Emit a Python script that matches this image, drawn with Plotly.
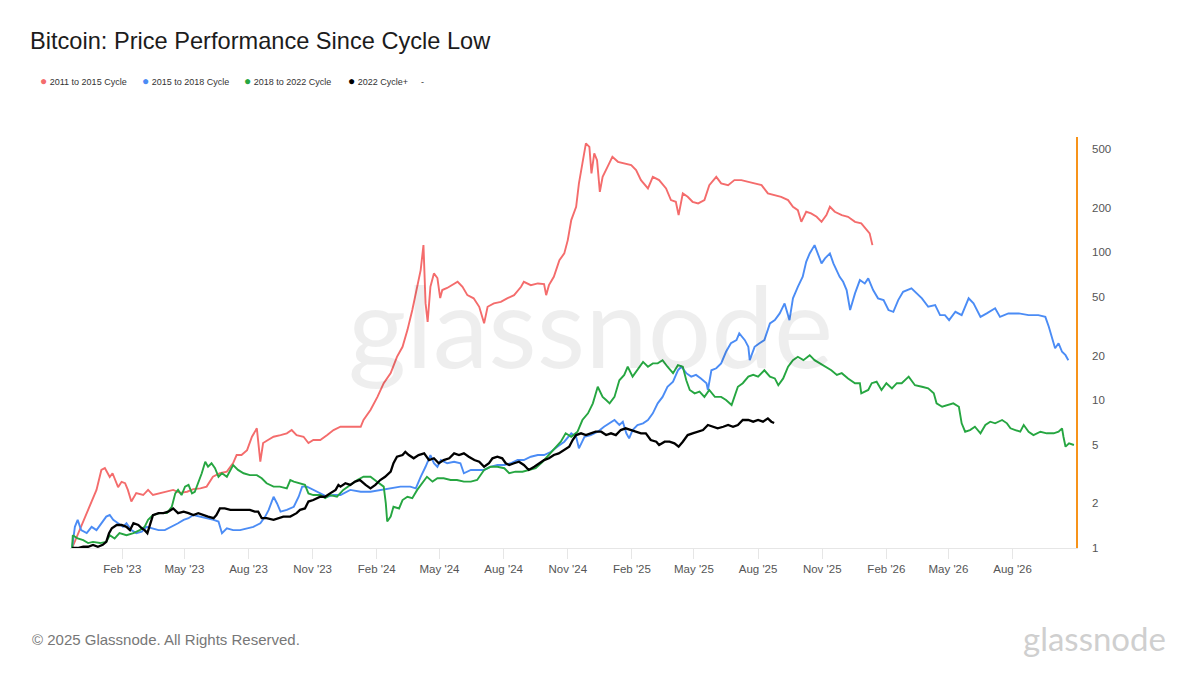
import pandas as pd
import plotly.graph_objects as go

CYCLE_LOW = "2022-11-21"

# ---- data: days since cycle low and multiple of cycle-low price ----
red_days = [0, 11, 25, 35, 42, 47, 54, 58, 66, 71, 76, 80, 85, 92, 102, 109, 116, 126, 136, 145,
            155, 165, 174, 184, 193, 202, 212, 222, 231, 236, 243, 251, 258, 265, 270, 274, 281, 289,
            299, 308, 315, 322, 332, 339, 346, 356, 366, 375, 385, 399, 414, 418, 428, 438, 447, 457,
            466, 474, 481, 488, 495, 500, 504, 507, 510, 514, 519, 524, 528, 531, 538, 545, 553, 560,
            567, 576, 584, 591, 596, 605, 615, 624, 634, 644, 648, 658, 668, 677, 680, 684, 691, 699,
            706, 711, 716, 723, 727, 732, 737, 742, 745, 749, 753, 757, 761, 768, 775, 783, 792, 802,
            809, 816, 826, 833, 842, 852, 859, 866, 870, 876, 883, 890, 898, 907, 914, 924, 931, 941,
            950, 960, 970, 979, 989, 998, 1008, 1017, 1027, 1034, 1041, 1046, 1053, 1060, 1068, 1075,
            1082, 1087, 1094, 1104, 1113, 1123, 1132, 1140, 1144, 1148]
red_vals = [1.0, 1.32, 1.89, 2.47, 3.37, 3.47, 3.02, 3.2, 2.58, 2.8, 2.74, 2.47, 2.06, 2.35, 2.28, 2.47,
            2.28, 2.35, 2.40, 2.47, 2.36, 2.40, 2.50, 2.53, 2.60, 3.03, 3.20, 3.28, 3.75, 4.25, 4.25, 4.59,
            5.65, 6.44, 3.83, 5.12, 5.37, 5.65, 5.80, 5.96, 6.27, 5.80, 5.65, 5.12, 5.37, 5.37, 5.80, 6.27,
            6.60, 6.60, 6.60, 7.33, 8.56, 10.5, 13.0, 15.2, 19.6, 22.9, 29.7, 40.6, 58.3, 75.6, 111.5, 45.2,
            33.8, 58.3, 71.8, 66.8, 48.9, 55.4, 57.2, 59.8, 63.0, 58.3, 51.2, 48.7, 42.7, 33.0, 42.7, 45.0,
            46.1, 48.7, 51.2, 58.3, 63.0, 59.8, 61.4, 60.8, 51.2, 59.8, 68.1, 88.3, 98.0, 120.5, 164.5,
            202.4, 291.2, 397.6, 542.6, 514.5, 340.2, 464.4, 418.6, 255.5, 322.7, 377.1, 440.5, 407.6,
            397.6, 387.2, 358.2, 306.6, 269.4, 322.7, 306.6, 269.4, 224.6, 218.8, 177.8, 249.2, 236.4,
            218.8, 213.4, 224.6, 283.6, 322.7, 291.2, 283.6, 306.6, 306.6, 298.5, 291.2, 283.6, 249.2,
            242.7, 236.4, 224.6, 202.4, 192.2, 160.2, 187.3, 182.6, 173.2, 160.2, 177.8, 202.4, 187.3,
            177.8, 173.2, 160.2, 156.3, 140.8, 133.8, 111.5]

blue_days = [0, 4, 8, 13, 21, 28, 35, 42, 49, 54, 59, 66, 73, 78, 85, 92, 100, 107, 114, 124, 133, 143,
             152, 160, 167, 174, 184, 193, 203, 210, 215, 222, 231, 241, 251, 260, 270, 277, 282, 289,
             294, 299, 308, 318, 325, 330, 337, 346, 356, 366, 375, 385, 399, 414, 428, 442, 457, 471,
             485, 493, 500, 507, 514, 519, 524, 529, 538, 548, 557, 562, 572, 581, 591, 600, 610, 620,
             629, 639, 648, 658, 668, 677, 687, 696, 706, 716, 723, 727, 735, 744, 754, 763, 773, 778,
             785, 790, 795, 799, 804, 811, 819, 826, 833, 840, 847, 854, 862, 869, 874, 881, 888, 895,
             902, 910, 912, 917, 924, 931, 938, 945, 953, 957, 965, 970, 972, 979, 986, 993, 1001, 1008,
             1015, 1022, 1029, 1034, 1041, 1048, 1053, 1058, 1065, 1070, 1075, 1080, 1087, 1092, 1096,
             1101, 1106, 1111, 1116, 1123, 1130, 1137, 1142, 1149, 1156, 1164, 1171, 1178, 1185, 1192,
             1204, 1212, 1219, 1228, 1238, 1245, 1252, 1258, 1267, 1276, 1286, 1293, 1303, 1312, 1324,
             1331, 1343, 1358, 1372, 1386, 1396, 1401, 1406, 1410, 1415, 1420, 1425, 1429]
blue_vals = [1.0, 1.39, 1.55, 1.32, 1.26, 1.39, 1.32, 1.47, 1.63, 1.67, 1.55, 1.47, 1.39, 1.47, 1.32,
             1.26, 1.29, 1.39, 1.36, 1.32, 1.32, 1.39, 1.47, 1.55, 1.59, 1.67, 1.63, 1.59, 1.55, 1.51,
             1.26, 1.36, 1.32, 1.32, 1.36, 1.39, 1.47, 1.63, 1.81, 2.22, 2.00, 1.76, 1.81, 1.90, 2.22,
             2.60, 2.60, 2.47, 2.34, 2.22, 2.28, 2.28, 2.47, 2.40, 2.40, 2.47, 2.53, 2.60, 2.60, 2.53,
             3.03, 3.54, 4.25, 3.74, 3.54, 3.93, 3.74, 3.83, 3.74, 3.20, 3.37, 3.37, 3.37, 3.54, 3.64,
             3.64, 3.74, 3.93, 3.93, 4.14, 4.25, 4.25, 4.47, 4.84, 5.23, 5.96, 5.65, 4.72, 5.65, 5.80,
             6.11, 6.60, 7.14, 7.33, 6.78, 7.14, 5.96, 5.51, 6.27, 6.78, 6.96, 7.33, 8.13, 9.50, 10.5,
             12.3, 13.3, 15.9, 16.8, 15.2, 14.4, 14.8, 14.0, 13.0, 11.7, 15.9, 16.4, 17.7, 21.2, 24.2,
             25.4, 28.2, 25.4, 22.9, 18.6, 22.9, 24.2, 25.4, 33.0, 34.7, 38.5, 45.0, 34.7, 48.7, 58.3,
             68.1, 86.0, 98.0, 111.5, 95.4, 83.9, 90.7, 98.0, 83.9, 75.6, 68.1, 63.0, 55.4, 40.6, 52.6,
             64.7, 61.4, 66.4, 55.4, 48.7, 47.4, 40.6, 39.5, 47.4, 53.9, 56.9, 52.6, 48.7, 42.7, 43.8,
             37.5, 37.5, 34.7, 39.5, 37.5, 48.7, 45.0, 36.5, 38.5, 41.7, 36.5, 38.5, 38.5, 37.5, 37.5,
             36.5, 31.3, 25.4, 22.4, 24.2, 21.2, 20.1, 18.6]

green_days = [0, 1, 8, 16, 23, 30, 40, 49, 54, 61, 68, 78, 88, 97, 104, 109, 116, 126, 136, 143, 148,
              152, 157, 162, 167, 172, 176, 181, 186, 191, 195, 200, 205, 210, 215, 222, 227, 231, 238,
              246, 255, 265, 272, 279, 289, 298, 308, 313, 318, 327, 334, 339, 346, 356, 363, 370, 380,
              389, 399, 409, 418, 428, 437, 447, 450, 452, 457, 461, 469, 474, 481, 488, 495, 502, 509,
              517, 524, 533, 543, 552, 562, 572, 581, 591, 600, 610, 620, 627, 636, 646, 656, 665, 675,
              684, 691, 701, 708, 716, 725, 732, 740, 747, 754, 761, 766, 771, 778, 785, 792, 797, 804,
              811, 819, 826, 833, 840, 847, 854, 862, 869, 876, 881, 886, 893, 900, 907, 914, 922, 931,
              938, 946, 950, 955, 962, 970, 977, 984, 993, 1001, 1008, 1013, 1020, 1027, 1034, 1041,
              1049, 1058, 1065, 1072, 1080, 1089, 1097, 1104, 1113, 1123, 1130, 1132, 1142, 1147, 1154,
              1161, 1168, 1176, 1183, 1190, 1200, 1209, 1219, 1228, 1236, 1240, 1248, 1257, 1264, 1272,
              1276, 1281, 1288, 1295, 1303, 1310, 1317, 1324, 1334, 1341, 1346, 1353, 1360, 1365, 1372,
              1379, 1389, 1398, 1408, 1415, 1420, 1422, 1425, 1430, 1437]
green_vals = [1.0, 1.22, 1.16, 1.13, 1.08, 1.10, 1.08, 1.10, 1.22, 1.16, 1.26, 1.22, 1.26, 1.32, 1.39,
              1.55, 1.67, 1.72, 1.72, 1.90, 2.34, 2.47, 2.28, 2.60, 2.67, 2.34, 2.40, 2.74, 3.20, 3.83,
              3.54, 3.74, 3.46, 3.03, 3.20, 3.03, 3.37, 3.64, 3.37, 3.20, 3.11, 3.11, 2.96, 2.74, 2.60,
              2.60, 2.53, 2.88, 2.81, 2.74, 2.67, 2.34, 2.28, 2.28, 2.17, 2.28, 2.22, 2.47, 2.67, 2.88,
              3.03, 3.03, 2.81, 2.60, 2.00, 1.51, 1.63, 1.90, 1.85, 2.11, 2.22, 2.17, 2.47, 2.74, 3.03,
              2.81, 2.96, 2.96, 2.88, 2.88, 2.81, 2.81, 2.88, 3.37, 3.54, 3.54, 3.46, 3.20, 3.28, 3.28,
              3.37, 3.46, 3.83, 4.25, 4.59, 5.23, 5.96, 5.65, 6.11, 7.33, 8.13, 9.50, 12.3, 10.5, 10.0,
              9.50, 10.5, 13.6, 14.8, 16.8, 14.4, 15.9, 18.1, 16.8, 17.7, 17.7, 18.6, 16.8, 15.2, 17.2,
              16.8, 13.6, 11.7, 11.1, 11.4, 10.5, 11.7, 10.5, 10.5, 10.0, 9.25, 10.5, 12.3, 13.0, 14.4,
              14.8, 14.4, 15.9, 14.4, 14.0, 12.6, 14.0, 16.8, 18.6, 19.6, 18.6, 20.1, 18.6, 17.7, 16.8,
              15.9, 14.8, 15.2, 14.0, 13.0, 13.0, 11.1, 11.7, 13.0, 13.3, 11.7, 13.0, 12.0, 13.0, 13.0,
              14.4, 12.6, 12.3, 12.0, 11.1, 9.50, 9.01, 9.25, 9.50, 9.01, 6.96, 6.11, 6.27, 6.60, 5.96,
              6.78, 7.14, 6.96, 7.33, 6.96, 6.44, 6.27, 6.11, 6.78, 6.11, 5.80, 6.11, 5.96, 5.96, 6.11,
              6.44, 5.65, 4.84, 5.10, 4.97]

black_days = [0, 8, 16, 23, 30, 37, 44, 49, 53, 57, 64, 71, 78, 83, 88, 95, 100, 104, 108, 112, 116,
              124, 131, 138, 145, 152, 160, 167, 174, 181, 188, 195, 203, 207, 212, 219, 227, 236, 246,
              255, 262, 267, 272, 279, 289, 296, 303, 313, 322, 327, 334, 339, 346, 356, 363, 370, 378,
              382, 385, 392, 399, 406, 413, 421, 428, 435, 442, 449, 457, 461, 466, 474, 478, 483, 490,
              497, 505, 512, 519, 526, 533, 541, 548, 555, 562, 569, 577, 584, 591, 598, 603, 610, 617,
              622, 627, 634, 641, 648, 655, 663, 670, 677, 684, 691, 698, 706, 713, 718, 723, 730, 737,
              744, 751, 759, 766, 773, 780, 787, 794, 802, 809, 816, 823, 830, 838, 842, 850, 857, 864,
              870, 876, 883, 890, 898, 905, 912, 919, 926, 934, 941, 948, 955, 962, 970, 977, 984, 991,
              998, 1003, 1007]
black_vals = [1.0, 1.0, 1.02, 1.02, 1.05, 1.02, 1.05, 1.10, 1.26, 1.36, 1.43, 1.43, 1.39, 1.32, 1.47,
              1.43, 1.36, 1.32, 1.26, 1.47, 1.67, 1.72, 1.72, 1.76, 1.85, 1.72, 1.76, 1.72, 1.67, 1.72,
              1.67, 1.63, 1.59, 1.67, 1.85, 1.85, 1.81, 1.81, 1.81, 1.81, 1.76, 1.76, 1.59, 1.59, 1.55,
              1.59, 1.63, 1.63, 1.72, 1.81, 1.85, 2.06, 2.11, 2.22, 2.22, 2.34, 2.47, 2.67, 2.60, 2.74,
              2.67, 2.81, 2.88, 2.67, 2.53, 2.67, 2.88, 3.03, 3.28, 3.74, 4.14, 4.25, 4.47, 4.25, 4.04,
              4.25, 4.36, 3.93, 4.04, 3.74, 3.93, 4.04, 4.36, 4.25, 4.36, 4.14, 3.93, 3.83, 3.54, 3.74,
              4.04, 4.14, 4.04, 3.74, 3.64, 3.74, 3.83, 3.64, 3.37, 3.54, 3.74, 3.93, 4.04, 4.25, 4.36,
              4.59, 4.84, 5.37, 5.80, 5.96, 5.80, 5.96, 6.11, 6.11, 5.80, 5.96, 5.80, 6.27, 6.44, 6.27,
              6.11, 5.96, 5.96, 5.37, 5.23, 4.97, 5.23, 5.23, 5.10, 4.84, 5.23, 5.80, 5.96, 6.11, 6.27,
              6.78, 6.60, 6.44, 6.60, 6.78, 6.60, 6.78, 7.33, 7.33, 7.14, 7.33, 7.14, 7.52, 7.14, 7.0]

series_names = ["2011 to 2015 Cycle", "2015 to 2018 Cycle", "2018 to 2022 Cycle", "2022 Cycle+"]
series_colors = ["#F46C6C", "#4B8CF5", "#26A641", "#000000"]
y_tick_vals = [1, 2, 5, 10, 20, 50, 100, 200, 500]
y_tick_text = ["1", "2", "5", "10", "20", "50", "100", "200", "500"]


def to_dates(days):
    return pd.Timestamp(CYCLE_LOW) + pd.to_timedelta(days, unit="D")


fig = go.Figure()
all_series = [(red_days, red_vals), (blue_days, blue_vals), (green_days, green_vals), (black_days, black_vals)]
widths = [1.9, 1.9, 1.9, 2.3]
for (d, v), name, col, w in zip(all_series, series_names, series_colors, widths):
    fig.add_trace(go.Scatter(x=to_dates(d), y=v, mode="lines", name=name, showlegend=False,
                             line=dict(color=col, width=w), hoverinfo="skip"))

# legend entries: coloured dot drawn in the label so it sits close to the text
legend_widths = [57, 57, 59, 28]
for name, col, lw in zip(series_names, series_colors, legend_widths):
    label = f"<span style='color:{col};font-size:12px'>●</span> {name}"
    fig.add_trace(go.Scatter(x=[None], y=[None], mode="markers", name=label, legendwidth=lw,
                             marker=dict(color="rgba(0,0,0,0)", size=1)))
fig.add_trace(go.Scatter(x=[None], y=[None], mode="markers", name="-", legendwidth=20,
                         marker=dict(color="rgba(0,0,0,0)", size=1)))

fig.update_layout(
    width=1200, height=675,
    margin=dict(l=70, r=124, t=137, b=127),
    paper_bgcolor="white", plot_bgcolor="white",
    font=dict(family="Liberation Sans, Arial, sans-serif", color="#555555"),
    title=dict(text="Bitcoin: Price Performance Since Cycle Low", x=30 / 1200, xanchor="left",
               y=1 - 41 / 675, yanchor="middle", font=dict(size=23.6, color="#1c1c1c")),
    legend=dict(orientation="h", xref="paper", yref="container", x=(-12 - 70) / 1006, y=1 - 81 / 675,
                xanchor="left", yanchor="middle", font=dict(size=9, color="#333333"),
                itemwidth=30, bgcolor="rgba(0,0,0,0)"),
    xaxis=dict(type="date", range=["2022-11-18", "2026-10-31"], tick0="2023-02-01", dtick="M3",
               tickformat="%b '%y", showgrid=False, zeroline=False, showline=True, linecolor="#e6e6e6",
               ticks="outside", ticklen=10, tickcolor="#e6e6e6", tickfont=dict(size=11.5, color="#555555")),
    yaxis=dict(type="log", side="right", range=[0, 2.778], tickvals=y_tick_vals, ticktext=y_tick_text,
               showgrid=False, zeroline=False, showline=True, linecolor="#F7931A", linewidth=1.5,
               ticks="", ticklabelstandoff=12, tickfont=dict(size=11.5, color="#555555")),
    annotations=[
        dict(text="glassnode", xref="paper", yref="paper", x=0.517, y=0.543, xanchor="center",
             yanchor="middle", showarrow=False,
             font=dict(size=112, color="rgba(0,0,0,0.065)", family="Lato, Open Sans, sans-serif", weight=400)),
        dict(text="© 2025 Glassnode. All Rights Reserved.", xref="paper", yref="paper",
             x=(30 - 70) / 1006, y=(548 - 639) / 411, xanchor="left", yanchor="middle", showarrow=False,
             font=dict(size=15, color="#777777")),
        dict(text="glassnode", xref="paper", yref="paper", x=(1168 - 70) / 1006, y=(548 - 638) / 411,
             xanchor="right", yanchor="middle", showarrow=False,
             font=dict(size=33, color="#cfcfcf", family="Lato, Open Sans, sans-serif", weight=400)),
    ],
)

fig.write_html("out.html", config={"displayModeBar": False},
               post_script="document.body.style.margin='0';")
